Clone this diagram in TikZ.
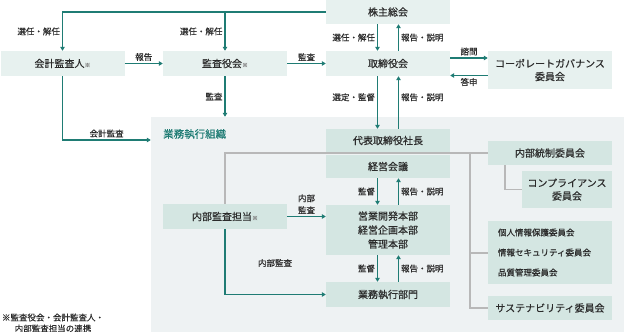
\documentclass[tikz,border=0pt]{standalone}
\usepackage{fontspec}
\setmainfont{Noto Sans CJK JP}[FakeBold=0.5]
\usetikzlibrary{arrows.meta,positioning,backgrounds}
\definecolor{midori}{HTML}{1F7C74}
\definecolor{usuA}{HTML}{E7F1EF}
\definecolor{usuB}{HTML}{D4E6E2}
\definecolor{haikei}{HTML}{EEF2F3}
\definecolor{sumi}{HTML}{2B2B2B}
\definecolor{hai}{HTML}{B8B8B8}
\newcommand{\kome}{{\fontsize{6}{6}\selectfont\color{gray}※}}
\tikzset{
  kou/.style={fill=usuA,minimum width=124pt,minimum height=25pt,inner sep=1pt,
    align=center,text=sumi,font=\fontsize{10}{13}\selectfont},
  nai/.style={kou,fill=usuB},
  yaji/.style={midori,line width=1.1pt,-{Triangle[length=4pt,width=4.5pt]}},
  sen/.style={hai,line width=1.2pt},
  lab/.style={text=sumi,inner sep=2pt,font=\fontsize{8.5}{12}\selectfont},
}

\begin{document}
\begin{tikzpicture}[x=1pt,y=-1pt]
  \useasboundingbox (0,0) rectangle (624,332);
  % business execution area
  \node[fill=haikei,minimum width=473pt,minimum height=215pt,inner sep=0] (soshiki) at (387.5,224.5) {};
  \node[anchor=west,text=midori,font=\fontsize{10.5}{12}\selectfont,inner sep=0] (soshikiT) at (163,134) {業務執行組織};
  % boxes
  \node[kou] (kaikei) at (62.5,63.5) {会計監査人\kome};
  \node[kou] (kansa) at (225,63.5) {監査役会\kome};
  \node[kou,minimum height=24pt] (kabu) at (388,12) {株主総会};
  \node[kou] (tori) at (388,63.5) {取締役会};
  \node[kou,minimum height=38pt] (cg) at (550,70) {コーポレートガバナンス\\委員会};
  \draw[sen] (225,216) |- (550,153);
  \draw[sen] (470,153) |- (550,308);
  \draw[sen] (470,253) -- (500,253);
  \draw[sen] (505,160) |- (560,189.5);
  \node[nai,minimum height=23pt] (daihyo) at (388,140.5) {代表取締役社長};
  \node[nai,minimum height=23pt] (kaigi) at (388,166.5) {経営会議};
  \node[nai,minimum height=50pt,font=\fontsize{10}{14}\selectfont] (honbu) at (388,230) {営業開発本部\\経営企画本部\\管理本部};
  \node[nai] (naibu) at (225,216.5) {内部監査担当\kome};
  \node[nai] (bumon) at (388,294.5) {業務執行部門};
  \node[nai,minimum height=24pt] (tousei) at (550,153) {内部統制委員会};
  \node[nai,minimum width=90pt,minimum height=37pt] (comp) at (567,189.5) {コンプライアンス\\委員会};
  \node[nai,minimum height=63pt,text width=104pt,align=left,font=\fontsize{8.5}{20}\selectfont] (iinkai) at (550,252.5)
    {個人情報保護委員会\\情報セキュリティ委員会\\品質管理委員会};
  \node[nai,minimum height=24pt] (sus) at (550,308) {サステナビリティ委員会};
  % arrows
  \draw[yaji] (kabu.west) -| node[lab,left,pos=0.75] {選任・解任} (kaikei.north);
  \draw[yaji] (kabu.west -| kansa.north) -- node[lab,left] {選任・解任} (kansa.north);
  \draw[yaji] (kaikei) -- node[lab,above] {報告} (kansa);
  \draw[yaji] (kansa) -- node[lab,above] {監査} (tori);
  \draw[yaji] (kansa) -- node[lab,left] {監査} (kansa.south |- soshiki.north);
  \draw[yaji] (kaikei.south) |- node[lab,above,pos=0.75] {会計監査} (soshiki.west |- 0,140);
  \draw[yaji] ([xshift=-10.5pt]kabu.south) -- node[lab,left] {選任・解任} ([xshift=-10.5pt]tori.north);
  \draw[yaji] ([xshift=10.5pt]tori.north) -- node[lab,right] {報告・説明} ([xshift=10.5pt]kabu.south);
  \draw[yaji] ([yshift=5.5pt]tori.east) -- node[lab,above] {諮問} ([yshift=5.5pt]tori.east -| cg.west);
  \draw[yaji] ([yshift=-5.5pt]cg.west) -- node[lab,below] {答申} ([yshift=-5.5pt]cg.west -| tori.east);
  \draw[yaji] ([xshift=-10.5pt]tori.south) -- node[lab,left,pos=0.4] {選定・監督} ([xshift=-10.5pt]daihyo.north);
  \draw[yaji] ([xshift=10.5pt]daihyo.north) -- node[lab,right,pos=0.6] {報告・説明} ([xshift=10.5pt]tori.south);
  \draw[yaji] ([xshift=-10.5pt]kaigi.south) -- node[lab,left] {監督} ([xshift=-10.5pt]honbu.north);
  \draw[yaji] ([xshift=10.5pt]honbu.north) -- node[lab,right] {報告・説明} ([xshift=10.5pt]kaigi.south);
  \draw[yaji] ([xshift=-10.5pt]honbu.south) -- node[lab,left] {監督} ([xshift=-10.5pt]bumon.north);
  \draw[yaji] ([xshift=10.5pt]bumon.north) -- node[lab,right] {報告・説明} ([xshift=10.5pt]honbu.south);
  \draw[yaji] (naibu.east) -- node[lab,above,align=center] {内部\\監査} (naibu.east -| honbu.west);
  \draw[yaji] (naibu.south) |- (bumon.west);
  \node[lab] (naibuL) at (275,263) {内部監査};
  % note
  \node[lab,align=center,font=\fontsize{8.5}{11}\selectfont] (chu) at (53,323) {※監査役会・会計監査人・\\内部監査担当の連携};
\end{tikzpicture}
\end{document}
